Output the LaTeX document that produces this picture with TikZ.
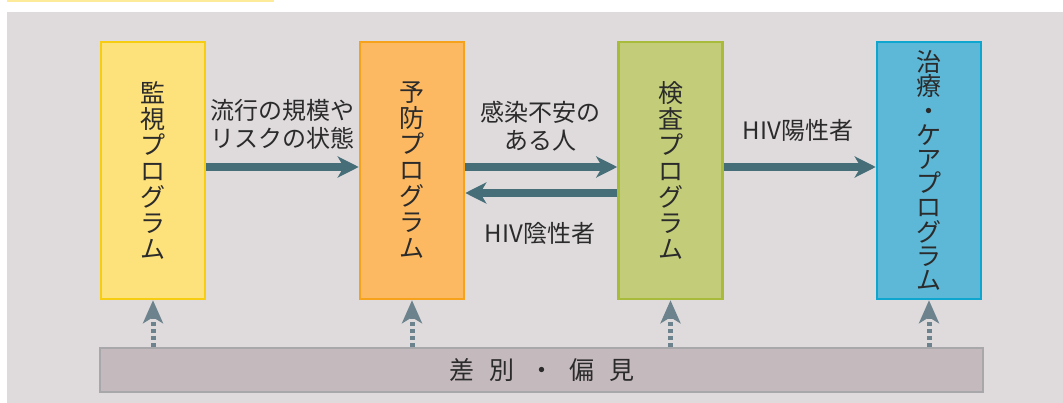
\documentclass[tikz,border=0pt]{standalone}
\usepackage{fontspec}
\newfontfamily\jp{Noto Sans CJK JP}
\usetikzlibrary{arrows.meta,calc}
\definecolor{panel}{HTML}{DFDBDC}
\definecolor{strip}{HTML}{FDEB9A}
\definecolor{yfill}{HTML}{FDE17A}\definecolor{yline}{HTML}{F7CD12}
\definecolor{ofill}{HTML}{FDB962}\definecolor{oline}{HTML}{F7A21B}
\definecolor{gfill}{HTML}{C3CC78}\definecolor{gline}{HTML}{A9BB3A}
\definecolor{bfill}{HTML}{5DB7D6}\definecolor{bline}{HTML}{0EA5CF}
\definecolor{barfill}{HTML}{C4B9BC}\definecolor{barline}{HTML}{A8A7A9}
\definecolor{arr}{HTML}{466E78}
\definecolor{darr}{HTML}{6C838E}
\definecolor{txt}{HTML}{2B2B2B}
\tikzset{
  prog/.style={draw, line width=2.5pt, minimum width=104pt, minimum height=257pt,
    inner sep=0pt, align=center, text=txt, font=\jp\fontsize{25}{26}\selectfont},
  flow/.style={draw=arr, line width=8pt, -{Stealth[length=21pt,width=21pt,inset=6pt]}},
  dflow/.style={draw=darr, line width=5pt, dash pattern=on 4pt off 3pt,
    -{Stealth[length=23pt,width=20pt,inset=6pt]}},
  lbl/.style={text=txt, align=center, inner sep=0pt, font=\jp\fontsize{24}{28}\selectfont},
}
\begin{document}
\begin{tikzpicture}[x=1pt,y=-1pt]
\useasboundingbox (0,0) rectangle (1063,403);
\fill[strip] (7,0) rectangle (274,2.5);
\fill[panel] (7,12) rectangle (1063,403);

\node[prog, fill=yfill, draw=yline] (y) at (153,170.5) {監\\視\\プ\\ロ\\グ\\ラ\\ム};
\node[prog, fill=ofill, draw=oline] (o) at (412,170.5) {予\\防\\プ\\ロ\\グ\\ラ\\ム};
\node[prog, fill=gfill, draw=gline] (g) at (670.5,170.5) {検\\査\\プ\\ロ\\グ\\ラ\\ム};
\node[prog, fill=bfill, draw=bline, font=\jp\fontsize{25}{24.2}\selectfont] (b) at (929,170.5) {治\\療\\・\\ケ\\ア\\プ\\ロ\\グ\\ラ\\ム};

\node[draw=barline, fill=barfill, line width=2pt, minimum width=883pt, minimum height=44pt,
  inner sep=0pt, text=txt, font=\jp\fontsize{25}{26}\selectfont] (bar) at (541.5,370)
  {差\hspace{15pt}別\hspace{15pt}・\hspace{15pt}偏\hspace{15pt}見};

\draw[flow] (y.east |- 0,167) -- (o.west |- 0,167);
\draw[flow] (o.east |- 0,167) -- (g.west |- 0,167);
\draw[flow] (g.west |- 0,193) -- (o.east |- 0,193);
\draw[flow] (g.east |- 0,167) -- (b.west |- 0,167);

\foreach \n in {y,o,g,b}{
  \draw[dflow] (bar.north -| \n.south) -- (\n.south);
}

\node[lbl] (l1) at (282,124) {流行の規模や\\リスクの状態};
\node[lbl] (l2) at (540,126) {感染不安の\\ある人};
\node[lbl] (l3) at (540,233) {HIV陰性者};
\node[lbl] (l4) at (798,130) {HIV陽性者};
\end{tikzpicture}
\end{document}
